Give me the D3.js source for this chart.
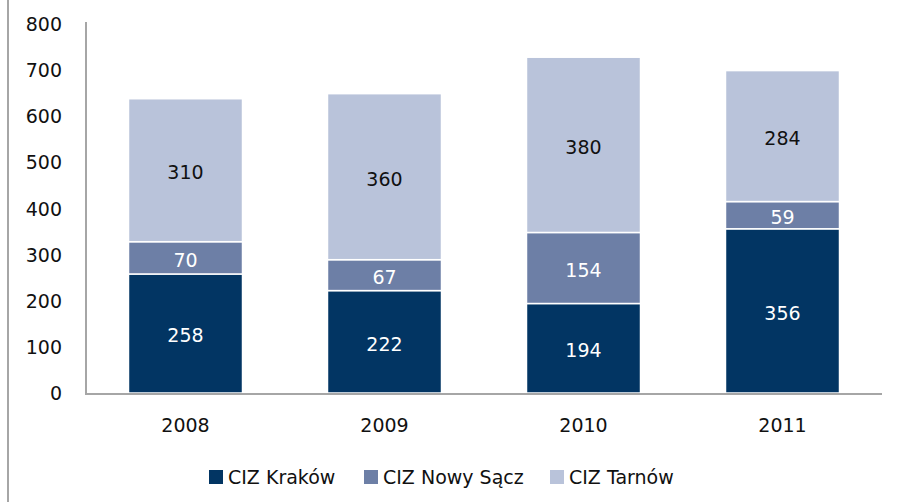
<!DOCTYPE html>
<html>
<head>
<meta charset="utf-8">
<script src="https://cdn.jsdelivr.net/npm/d3@7"></script>
<style>
  body { margin: 0; background: #fff; }
  svg { display: block; font-family: "DejaVu Sans", Verdana, sans-serif; }
</style>
</head>
<body>
<div id="bars"></div>
<script>
// Data
const years = ["2008", "2009", "2010", "2011"];
const krakow = [258, 222, 194, 356];
const nowySacz = [70, 67, 154, 59];
const tarnow = [310, 360, 380, 284];
const seriesNames = ["CIZ Kraków", "CIZ Nowy Sącz", "CIZ Tarnów"];
const seriesColors = ["#023563", "#6d7fa6", "#b9c3da"];
const labelColors = ["#ffffff", "#ffffff", "#111111"];
const yTicks = [0, 100, 200, 300, 400, 500, 600, 700, 800];

const width = 898, height = 502;

const data = years.map((y, i) => ({
  year: y,
  s0: krakow[i],
  s1: nowySacz[i],
  s2: tarnow[i]
}));

const svg = d3.select("#bars")
  .append("svg")
  .attr("width", width)
  .attr("height", height);

// Scales
const xScale = d3.scaleBand()
  .domain(years)
  .range([86, 882])
  .paddingInner(0.427)
  .paddingOuter(0.2135);

const yScale = d3.scaleLinear()
  .domain([0, 800])
  .range([393, 24]);

// Outer frame line on the left
svg.append("line")
  .attr("x1", 8).attr("x2", 8)
  .attr("y1", 0).attr("y2", height)
  .attr("stroke", "#a6a6a6")
  .attr("stroke-width", 2);

// Stack
const stackGenerator = d3.stack().keys(["s0", "s1", "s2"]);
const annotatedData = stackGenerator(data);

annotatedData.forEach((series, si) => {
  const g = svg.append("g");
  g.selectAll("rect")
    .data(series)
    .join("rect")
      .attr("x", d => xScale(d.data.year))
      .attr("y", d => yScale(d[1]))
      .attr("width", xScale.bandwidth())
      .attr("height", d => yScale(d[0]) - yScale(d[1]))
      .attr("fill", seriesColors[si])
      .attr("stroke", "#ffffff")
      .attr("stroke-width", 1.5);

  g.selectAll("text")
    .data(series)
    .join("text")
      .attr("x", d => xScale(d.data.year) + xScale.bandwidth() / 2)
      .attr("y", d => (yScale(d[0]) + yScale(d[1])) / 2 + 2)
      .attr("text-anchor", "middle")
      .attr("dominant-baseline", "central")
      .attr("fill", labelColors[si])
      .attr("font-size", 19)
      .text(d => d[1] - d[0]);
});

// Axes lines
svg.append("line")
  .attr("x1", 86).attr("x2", 86)
  .attr("y1", 22).attr("y2", yScale(0) + 1)
  .attr("stroke", "#a6a6a6")
  .attr("stroke-width", 2);

svg.append("line")
  .attr("x1", 85).attr("x2", 882)
  .attr("y1", yScale(0) + 1).attr("y2", yScale(0) + 1)
  .attr("stroke", "#a6a6a6")
  .attr("stroke-width", 2);

// Y tick labels
svg.append("g")
  .selectAll("text")
  .data(yTicks)
  .join("text")
    .attr("x", 62)
    .attr("y", d => yScale(d))
    .attr("text-anchor", "end")
    .attr("dominant-baseline", "central")
    .attr("fill", "#111111")
    .attr("font-size", 19)
    .text(d => d);

// X labels
svg.append("g")
  .selectAll("text")
  .data(years)
  .join("text")
    .attr("x", d => xScale(d) + xScale.bandwidth() / 2)
    .attr("y", 425)
    .attr("text-anchor", "middle")
    .attr("dominant-baseline", "central")
    .attr("fill", "#111111")
    .attr("font-size", 19)
    .text(d => d);

// Legend
const legendX = [209, 364, 550];
const legend = svg.append("g");
seriesNames.forEach((name, i) => {
  legend.append("rect")
    .attr("x", legendX[i])
    .attr("y", 470)
    .attr("width", 14)
    .attr("height", 14)
    .attr("fill", seriesColors[i]);
  legend.append("text")
    .attr("x", legendX[i] + 19)
    .attr("y", 477)
    .attr("dominant-baseline", "central")
    .attr("fill", "#111111")
    .attr("font-size", 19)
    .text(name);
});
</script>
</body>
</html>
